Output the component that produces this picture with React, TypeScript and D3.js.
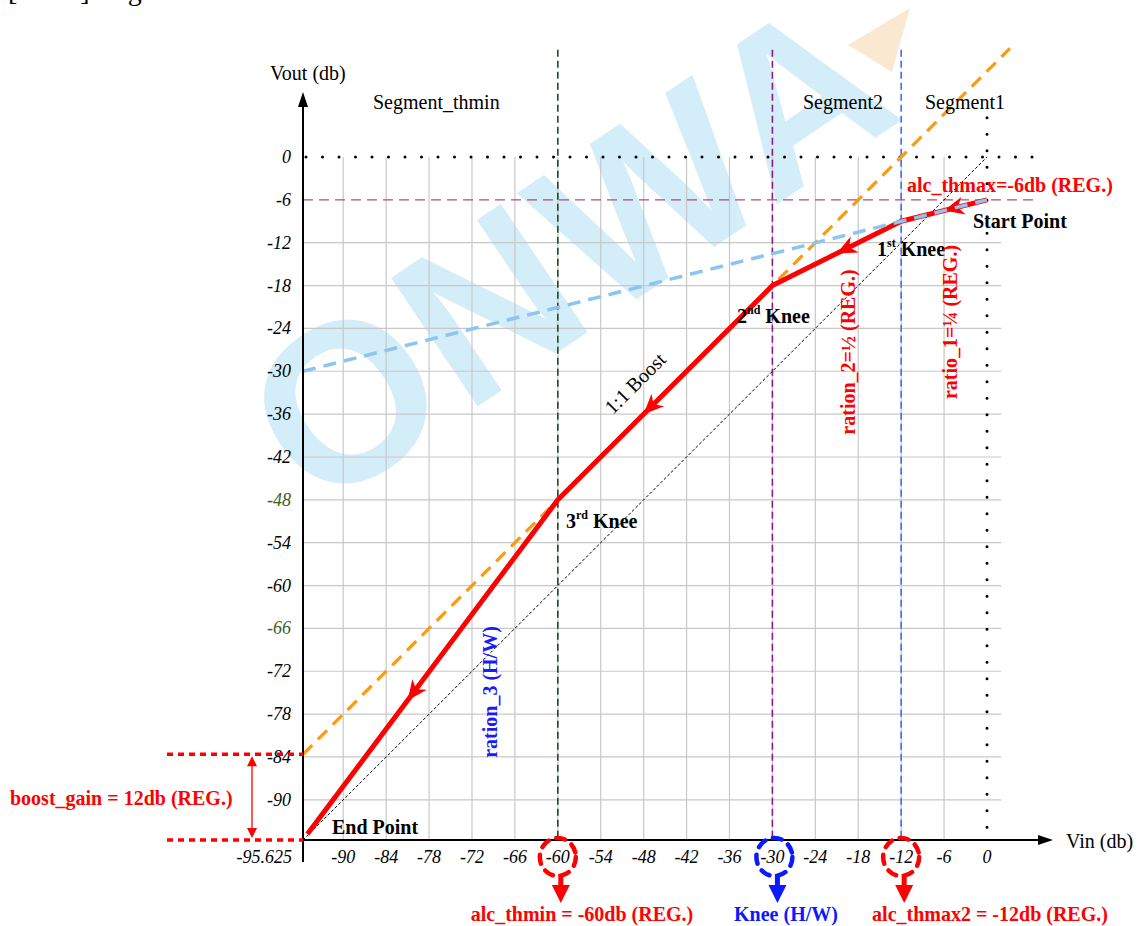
import { useEffect, useRef } from 'react';
import * as d3 from 'd3';

// Axis ticks (dB)
const yTicks = [0, -6, -12, -18, -24, -30, -36, -42, -48, -54, -60, -66, -72, -78, -84, -90];
const yGreenTicks = [-48, -66];
const xTicks = [-90, -84, -78, -72, -66, -60, -54, -48, -42, -36, -30, -24, -18, -12, -6, 0];
const gridVout = [-12, -18, -24, -30, -36, -42, -48, -54, -60, -66, -72, -78, -84, -90];
const gridVin = [-90, -84, -78, -72, -66, -60, -54, -48, -42, -36, -30, -24, -18, -12, -6];

// ALC transfer curve, start point -> end point
const curveVin = [0, -12, -30, -60, -95];
const curveVout = [-6, -9, -18, -48, -94.8];
const arrowAt = [0.5, 0.5, 0.6, 0.6];

// helper lines
const boostVin = [-95.625, 3.2];
const boostVout = [-83.625, 15.2];
const ratio1Vin = [-95.625, 0];
const ratio1Vout = [-30, -6];
const unityVin = [-95.625, 0];
const unityVout = [-95.625, 0];

// thresholds on Vin
const markVin = [-60, -30, -12];
const markLabels = ['alc_thmin = -60db (REG.)', 'Knee (H/W)', 'alc_thmax2 = -12db (REG.)'];
const segmentLabels = ['Segment_thmin', 'Segment2', 'Segment1'];

const VMIN = -95.625;

export default function App() {
  const svgRef = useRef<SVGSVGElement>(null);

  useEffect(() => {
    if (!svgRef.current) return;
    const svg = d3.select(svgRef.current);
    svg.selectAll('*').remove();

    const serif = 'Liberation Serif, Tinos, DejaVu Serif, serif';
    const x = d3.scaleLinear().domain([VMIN, 0]).range([303, 987]);
    const y = d3.scaleLinear().domain([VMIN, 0]).range([840, 157]);
    const line = d3.line<[number, number]>().x(d => x(d[0])).y(d => y(d[1]));
    const zip = (a: number[], b: number[]) => a.map((v, i) => [v, b[i]] as [number, number]);

    const txt = (xx: number, yy: number, size = 20) => svg.append('text').attr('x', xx).attr('y', yy)
      .attr('font-family', serif).attr('font-size', size);

    // caption of the page above, cut off at the top edge
    txt(8, 0, 28).text('[REG.] Register');

    // watermark
    const wm = svg.append('g').attr('transform', 'translate(570,250) rotate(-34)');
    wm.append('text').attr('text-anchor', 'middle').attr('y', 78)
      .attr('font-family', 'Liberation Sans, Arial, sans-serif').attr('font-weight', 'bold')
      .attr('font-size', 225).attr('fill', '#d3edf9').attr('letter-spacing', 4)
      .text('ONWA');
    svg.append('polygon').attr('points', '848,45 910,8 892,72').attr('fill', '#fbe8d0');

    // grid
    const grid = svg.append('g').attr('stroke', '#c8c8c8').attr('stroke-width', 1.2);
    gridVout.forEach(v => {
      grid.append('line').attr('x1', x(VMIN)).attr('x2', x(2)).attr('y1', y(v)).attr('y2', y(v));
    });
    gridVin.forEach(v => {
      grid.append('line').attr('x1', x(v)).attr('x2', x(v)).attr('y1', y(0)).attr('y2', y(VMIN));
    });

    // threshold vertical lines
    const markColors = ['#1d4d1d', '#8b1a8b', '#3d6ff5'];
    markVin.forEach((v, i) => {
      svg.append('line').attr('x1', x(v)).attr('x2', x(v)).attr('y1', y(15)).attr('y2', y(VMIN))
        .attr('stroke', markColors[i]).attr('stroke-width', 1.6).attr('stroke-dasharray', '7,4');
    });

    // -6 dB dashed line
    svg.append('line').attr('x1', x(VMIN)).attr('x2', x(6.7)).attr('y1', y(-6)).attr('y2', y(-6))
      .attr('stroke', '#b5487f').attr('stroke-width', 1.3).attr('stroke-dasharray', '10,6');

    // 0 dB dotted lines
    const dots = (sel: any) => sel.attr('stroke', '#000').attr('stroke-width', 3)
      .attr('stroke-linecap', 'round').attr('stroke-dasharray', '0,16.5');
    dots(svg.append('line').attr('x1', x(VMIN) + 3).attr('x2', x(6.8)).attr('y1', y(0)).attr('y2', y(0)));
    dots(svg.append('line').attr('x1', x(0)).attr('x2', x(0)).attr('y1', y(5.5)).attr('y2', y(VMIN)));

    // unity reference (thin dashed)
    svg.append('path').attr('d', line(zip(unityVin, unityVout)))
      .attr('fill', 'none').attr('stroke', '#000').attr('stroke-width', 1).attr('stroke-dasharray', '3,2');

    // boost 1:1 line (orange)
    svg.append('path').attr('d', line(zip(boostVin, boostVout)))
      .attr('fill', 'none').attr('stroke', '#ff9a0a').attr('stroke-width', 3.2).attr('stroke-dasharray', '13,8');

    // ALC curve
    const pts = zip(curveVin, curveVout);
    svg.append('path').attr('d', line(pts)).attr('fill', 'none').attr('stroke', '#ff0000')
      .attr('stroke-width', 5).attr('stroke-linejoin', 'round');
    arrowAt.forEach((f, i) => {
      const x0 = x(pts[i][0]), y0 = y(pts[i][1]), x1 = x(pts[i + 1][0]), y1 = y(pts[i + 1][1]);
      const px = x0 + (x1 - x0) * f, py = y0 + (y1 - y0) * f;
      const ang = Math.atan2(y1 - y0, x1 - x0) * 180 / Math.PI;
      svg.append('polygon').attr('points', '0,0 -20,-9 -14,0 -20,9')
        .attr('transform', `translate(${px},${py}) rotate(${ang})`).attr('fill', '#ff0000');
    });

    // ratio 1/4 line (light blue) on top
    svg.append('path').attr('d', line(zip(ratio1Vin, ratio1Vout)))
      .attr('fill', 'none').attr('stroke', '#8cc4f2').attr('stroke-width', 3.5).attr('stroke-dasharray', '13,8');

    // axes
    svg.append('line').attr('x1', x(VMIN)).attr('x2', x(VMIN)).attr('y1', 862).attr('y2', 100)
      .attr('stroke', '#000').attr('stroke-width', 2);
    svg.append('polygon').attr('points', `${x(VMIN)},92 ${x(VMIN) - 5},107 ${x(VMIN) + 5},107`).attr('fill', '#000');
    svg.append('line').attr('x1', x(VMIN)).attr('x2', 1045).attr('y1', y(VMIN)).attr('y2', y(VMIN))
      .attr('stroke', '#000').attr('stroke-width', 2);
    svg.append('polygon').attr('points', `1053,${y(VMIN)} 1038,${y(VMIN) - 5} 1038,${y(VMIN) + 5}`).attr('fill', '#000');

    txt(270, 80).text('Vout (db)');
    txt(1066, 848).text('Vin (db)');

    yTicks.forEach(v => {
      txt(291, y(v) + 6, 18).attr('text-anchor', 'end').attr('font-style', 'italic')
        .attr('fill', yGreenTicks.includes(v) ? '#3b5e22' : '#000').text(v);
    });
    xTicks.forEach(v => {
      txt(x(v), 863, 18).attr('text-anchor', 'middle').attr('font-style', 'italic').text(v);
    });
    txt(292, 863, 18).attr('text-anchor', 'end').attr('font-style', 'italic').text(VMIN);

    // segment titles
    [373, 803, 925].forEach((xx, i) => {
      txt(xx, 109).text(segmentLabels[i]);
    });

    // bold labels
    const bold = (xx: number, yy: number, color = '#000') => txt(xx, yy).attr('font-weight', 'bold').attr('fill', color);
    const knee = (xx: number, yy: number, n: string, sup: string) => {
      const t = bold(xx, yy);
      t.append('tspan').text(n);
      t.append('tspan').attr('dy', -9).attr('font-size', 12).text(sup);
      t.append('tspan').attr('dy', 9).text(' Knee');
    };
    knee(877, 256, '1', 'st');
    knee(737, 323, '2', 'nd');
    knee(566, 528, '3', 'rd');
    bold(973, 228).text('Start Point');
    bold(332, 834).text('End Point');
    bold(907, 192, '#ff0000').text('alc_thmax=-6db (REG.)');

    txt(0, 0).attr('transform', 'translate(640,388) rotate(-45)').attr('text-anchor', 'middle').text('1:1 Boost');

    bold(0, 0, '#ff0000').attr('transform', 'translate(957,322) rotate(-90)').attr('text-anchor', 'middle')
      .text('ratio_1=\u00bc  (REG.)');
    bold(0, 0, '#ff0000').attr('transform', 'translate(855,352) rotate(-90)').attr('text-anchor', 'middle')
      .text('ration_2=\u00bd  (REG.)');
    bold(0, 0, '#1a1aff').attr('transform', 'translate(497,692) rotate(-90)').attr('text-anchor', 'middle')
      .text('ration_3 (H/W)');

    // boost gain marker
    [-83.625, VMIN].forEach(v => {
      svg.append('line').attr('x1', 167).attr('x2', x(VMIN)).attr('y1', y(v)).attr('y2', y(v))
        .attr('stroke', '#ff0000').attr('stroke-width', 3.5).attr('stroke-dasharray', '6,5');
    });
    const gx = 252, gy0 = y(-83.625) + 2, gy1 = y(VMIN) - 2;
    svg.append('line').attr('x1', gx).attr('x2', gx).attr('y1', gy0 + 6).attr('y2', gy1 - 6)
      .attr('stroke', '#ff0000').attr('stroke-width', 1.3);
    svg.append('polygon').attr('points', `${gx},${gy0} ${gx - 5},${gy0 + 10} ${gx + 5},${gy0 + 10}`).attr('fill', '#ff0000');
    svg.append('polygon').attr('points', `${gx},${gy1} ${gx - 5},${gy1 - 10} ${gx + 5},${gy1 - 10}`).attr('fill', '#ff0000');
    bold(10, 805, '#ff0000').text('boost_gain = 12db (REG.)');

    // threshold circles + arrows + captions
    const markFill = ['#ff0000', '#0a1aff', '#ff0000'];
    const capX = [582, 786, 990];
    markVin.forEach((v, i) => {
      const cx = x(v) + (i === 1 ? 2 : 0);
      svg.append('ellipse').attr('cx', cx).attr('cy', 857).attr('rx', 18).attr('ry', 19)
        .attr('fill', 'none').attr('stroke', markFill[i]).attr('stroke-width', 4.5)
        .attr('stroke-dasharray', '9,8').attr('stroke-linecap', 'round');
      const ax = cx + 3;
      svg.append('rect').attr('x', ax - 2.5).attr('y', 874).attr('width', 5).attr('height', 14).attr('fill', markFill[i]);
      svg.append('polygon').attr('points', `${ax},903 ${ax - 9},885 ${ax + 9},885`).attr('fill', markFill[i]);
      bold(capX[i], 921, markFill[i]).attr('text-anchor', 'middle').text(markLabels[i]);
    });
  }, []);

  return (
    <div style={{ position: 'absolute', left: 0, top: 0 }}>
      <svg ref={svgRef} width={1138} height={926} style={{ display: 'block', background: '#fff' }} />
    </div>
  );
}
